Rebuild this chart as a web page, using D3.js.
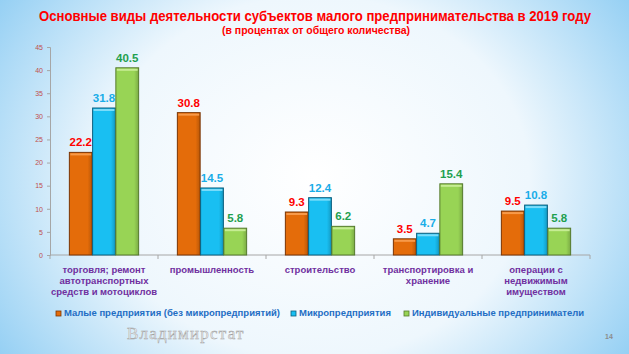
<!DOCTYPE html>
<html>
<head>
<meta charset="utf-8">
<script src="https://cdn.jsdelivr.net/npm/d3@7"></script>
<style>
  body { margin: 0; }
  svg { display: block; font-family: Arial, "Liberation Sans", sans-serif; }
</style>
</head>
<body>
<div class="chart"></div>
<script>
var categories = [
  ['торговля; ремонт', 'автотранспортных', 'средств и мотоциклов'],
  ['промышленность'],
  ['строительство'],
  ['транспортировка и', 'хранение'],
  ['операции с', 'недвижимым', 'имуществом']
];
var seriesNames = ['Малые предприятия (без микропредприятий)', 'Микропредприятия', 'Индивидуальные предприниматели'];
var small = [22.2, 30.8, 9.3, 3.5, 9.5];
var micro = [31.8, 14.5, 12.4, 4.7, 10.8];
var individual = [40.5, 5.8, 6.2, 15.4, 5.8];
var yTicks = [0, 5, 10, 15, 20, 25, 30, 35, 40, 45];

var colors = [
  { fill: '#E46C0A', light: '#F79A4A', dark: '#7A3504', label: '#FF0000' },
  { fill: '#19BFF2', light: '#7ADCFA', dark: '#0B5F7E', label: '#19ADE8' },
  { fill: '#98D455', light: '#C6EC93', dark: '#557A2C', label: '#1FA04F' }
];

var W = 629, H = 354;
var svg = d3.select('.chart').append('svg')
  .attr('width', W).attr('height', H);

var defs = svg.append('defs');
// background: white centre fading to light blue at the edges
var bg = defs.append('radialGradient').attr('id', 'bg')
  .attr('cx', '50%').attr('cy', '50%').attr('r', '62%')
  .attr('gradientTransform', 'translate(0.5,0.5) scale(1,1.5) translate(-0.5,-0.5)');
bg.append('stop').attr('offset', '0%').attr('stop-color', '#FFFFFF');
bg.append('stop').attr('offset', '55%').attr('stop-color', '#EEF7FD');
bg.append('stop').attr('offset', '100%').attr('stop-color', '#8FCDF3');
svg.append('rect').attr('width', W).attr('height', H).attr('fill', 'url(#bg)');

colors.forEach(function (c, i) {
  var g = defs.append('linearGradient').attr('id', 'bar' + i)
    .attr('x1', 0).attr('x2', 1).attr('y1', 0).attr('y2', 0);
  g.append('stop').attr('offset', '0%').attr('stop-color', c.fill);
  g.append('stop').attr('offset', '80%').attr('stop-color', c.fill);
  g.append('stop').attr('offset', '100%').attr('stop-color', d3.color(c.fill).darker(0.6));
});

// title
svg.append('text').attr('x', 315).attr('y', 21)
  .attr('text-anchor', 'middle').attr('fill', '#FF0000')
  .attr('font-weight', 'bold').attr('font-size', 14)
  .attr('textLength', 552).attr('lengthAdjust', 'spacingAndGlyphs')
  .text('Основные виды деятельности субъектов малого предпринимательства в 2019 году');
svg.append('text').attr('x', 316).attr('y', 34)
  .attr('text-anchor', 'middle').attr('fill', '#FF0000')
  .attr('font-weight', 'bold').attr('font-size', 10)
  .attr('textLength', 188).attr('lengthAdjust', 'spacingAndGlyphs')
  .text('(в процентах от общего количества)');

var y = d3.scaleLinear().domain([0, 45]).range([255, 47]);
var x0 = d3.scaleBand().domain(d3.range(categories.length)).range([50, 590])
  .paddingInner(0.35).paddingOuter(0.175);
var x1 = d3.scaleBand().domain([0, 1, 2]).range([0, x0.bandwidth()]).padding(0.02);

// y axis
var yAxis = svg.append('g').attr('transform', 'translate(50,0)')
  .call(d3.axisLeft(y).tickValues(yTicks).tickSize(3).tickPadding(4));
yAxis.select('.domain').attr('stroke', '#A6A6A6');
yAxis.selectAll('.tick line').attr('stroke', '#A6A6A6');
yAxis.selectAll('.tick text').attr('fill', '#C0504D').attr('font-size', 7);

// x axis with separators between categories
var xAxis = svg.append('g').attr('transform', 'translate(0,255)');
xAxis.append('line').attr('x1', 50).attr('x2', 590).attr('stroke', '#A6A6A6');
xAxis.selectAll('line.sep')
  .data(d3.range(categories.length + 1))
  .enter().append('line').attr('class', 'sep')
  .attr('x1', function (d) { return 50 + d * x0.step(); })
  .attr('x2', function (d) { return 50 + d * x0.step(); })
  .attr('y1', 0).attr('y2', 4).attr('stroke', '#A6A6A6');

var data = categories.map(function (c, i) {
  return { i: i, values: [small[i], micro[i], individual[i]] };
});

var group = svg.selectAll('g.cat')
  .data(data)
  .enter().append('g').attr('class', 'cat')
  .attr('transform', function (d) { return 'translate(' + x0(d.i) + ',0)'; });

var bar = group.selectAll('g.bar')
  .data(function (d) { return d.values.map(function (v, s) { return { v: v, s: s }; }); })
  .enter().append('g').attr('class', 'bar');

bar.append('rect')
  .attr('x', function (d) { return x1(d.s); })
  .attr('y', function (d) { return y(d.v); })
  .attr('width', x1.bandwidth())
  .attr('height', function (d) { return y(0) - y(d.v); })
  .attr('fill', function (d) { return 'url(#bar' + d.s + ')'; })
  .attr('stroke', function (d) { return colors[d.s].dark; })
  .attr('stroke-width', 1);

// bevel highlight on the top of each bar
bar.append('rect')
  .attr('x', function (d) { return x1(d.s) + 1; })
  .attr('y', function (d) { return y(d.v) + 1; })
  .attr('width', x1.bandwidth() - 2)
  .attr('height', 2)
  .attr('fill', function (d) { return colors[d.s].light; });

bar.append('text')
  .attr('x', function (d) { return x1(d.s) + x1.bandwidth() / 2; })
  .attr('y', function (d) { return y(d.v) - 6; })
  .attr('text-anchor', 'middle')
  .attr('font-weight', 'bold').attr('font-size', 11.5)
  .attr('fill', function (d) { return colors[d.s].label; })
  .text(function (d) { return d.v.toFixed(1); });

// category labels
var catLabel = svg.selectAll('text.cat')
  .data(categories)
  .enter().append('text').attr('class', 'cat')
  .attr('text-anchor', 'middle')
  .attr('fill', '#7030A0').attr('font-weight', 'bold').attr('font-size', 9.5);
catLabel.selectAll('tspan')
  .data(function (d, i) { return d.map(function (t) { return { t: t, i: i }; }); })
  .enter().append('tspan')
  .attr('x', function (d) { return x0(d.i) + x0.bandwidth() / 2; })
  .attr('y', function (d, j) { return 273 + j * 11; })
  .text(function (d) { return d.t; });

// legend
var legendX = [56, 291, 404];
var legend = svg.selectAll('g.legend')
  .data(seriesNames)
  .enter().append('g').attr('class', 'legend')
  .attr('transform', function (d, i) { return 'translate(' + legendX[i] + ',311)'; });
legend.append('rect')
  .attr('width', 5).attr('height', 5)
  .attr('fill', function (d, i) { return colors[i].fill; })
  .attr('stroke', function (d, i) { return colors[i].dark; })
  .attr('stroke-width', 0.8);
legend.append('text')
  .attr('x', 8).attr('y', 5)
  .attr('fill', '#1F6EC4').attr('font-weight', 'bold').attr('font-size', 9.5)
  .text(function (d) { return d; });

// footer
svg.append('text').attr('x', 127).attr('y', 339)
  .attr('font-family', '"Liberation Serif", "DejaVu Serif", serif')
  .attr('font-size', 17).attr('letter-spacing', 1.2)
  .attr('fill', '#EDEDED').attr('stroke', '#A0A0A0').attr('stroke-width', 0.45)
  .text('Владимирстат');
svg.append('text').attr('x', 609).attr('y', 339)
  .attr('text-anchor', 'middle').attr('fill', '#8C8C8C')
  .attr('font-size', 7).attr('font-weight', 'bold')
  .text('14');
</script>
</body>
</html>
